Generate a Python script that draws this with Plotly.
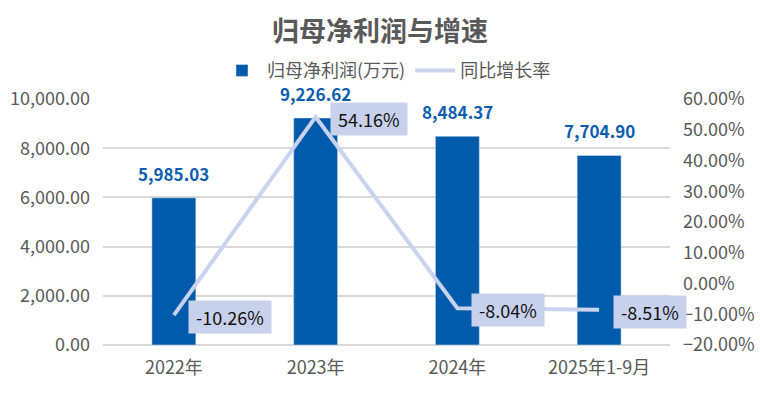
import plotly.graph_objects as go

years = ['2022年', '2023年', '2024年', '2025年1-9月']
profit = [5985.03, 9226.62, 8484.37, 7704.90]
growth = [-10.26, 54.16, -8.04, -8.51]

font_cn = 'Noto Sans CJK SC'
grey = '#595959'

fig = go.Figure()

fig.add_trace(go.Bar(
    x=years, y=profit, name='归母净利润(万元)',
    marker_color='#005BAC',
))

fig.add_trace(go.Scatter(
    x=years, y=growth, name='同比增长率', yaxis='y2',
    mode='lines', line=dict(color='#C9D2EE', width=4),
))

# bar value labels
for yr, v in zip(years, profit):
    fig.add_annotation(
        x=yr, y=v, xref='x', yref='y', text=f'<b>{v:,.2f}</b>',
        showarrow=False, yanchor='bottom', yshift=10,
        font=dict(size=17, color='#0A5DB0', family=font_cn),
    )

# line labels with background box
for yr, g in zip(years, growth):
    fig.add_annotation(
        x=yr, y=g, xref='x', yref='y2', text=f'&nbsp;{g:.2f}%&nbsp;',
        showarrow=False, xanchor='left', xshift=14, yshift=-2,
        bgcolor='#C8D1EC', borderpad=3,
        font=dict(size=18, color='#111111', family=font_cn),
    )

fig.update_layout(
    width=760, height=408,
    margin=dict(l=103, r=90, t=99, b=63, autoexpand=False),
    paper_bgcolor='white', plot_bgcolor='rgba(0,0,0,0)',
    font=dict(family=font_cn, color=grey, size=18),
    title=dict(text='<b>归母净利润与增速</b>', x=0.5, xanchor='center',
               y=0.922, yanchor='middle',
               font=dict(size=27, color=grey, family=font_cn)),
    legend=dict(orientation='h', x=0.5, xanchor='center', y=1.115, yanchor='middle',
                font=dict(size=18, color=grey), bgcolor='rgba(0,0,0,0)',
                itemwidth=40, tracegroupgap=0),
    bargap=0.69,
    showlegend=True,
    xaxis=dict(range=[-0.5, 3.5], showgrid=False, showline=False, ticks='',
               ticklabelstandoff=10, tickfont=dict(size=18, color=grey)),
    yaxis=dict(range=[0, 10000], dtick=2000, tickformat=',.2f',
               showgrid=True, gridcolor='#D9D9D9', gridwidth=1.5,
               zeroline=True, zerolinecolor='#D9D9D9', zerolinewidth=1.5,
               ticks='', ticklabelstandoff=12, tickfont=dict(size=18, color=grey)),
    yaxis2=dict(range=[-20, 60], dtick=10, tickformat='.2f', ticksuffix='%',
                overlaying='y', side='right', showgrid=False, zeroline=False,
                ticks='', ticklabelstandoff=12, tickfont=dict(size=18, color=grey)),
)

# drop the default page margin so the figure sits at the window corner
fig.write_html('out.html', config={'displayModeBar': False},
               post_script="document.body.style.margin='0';")
